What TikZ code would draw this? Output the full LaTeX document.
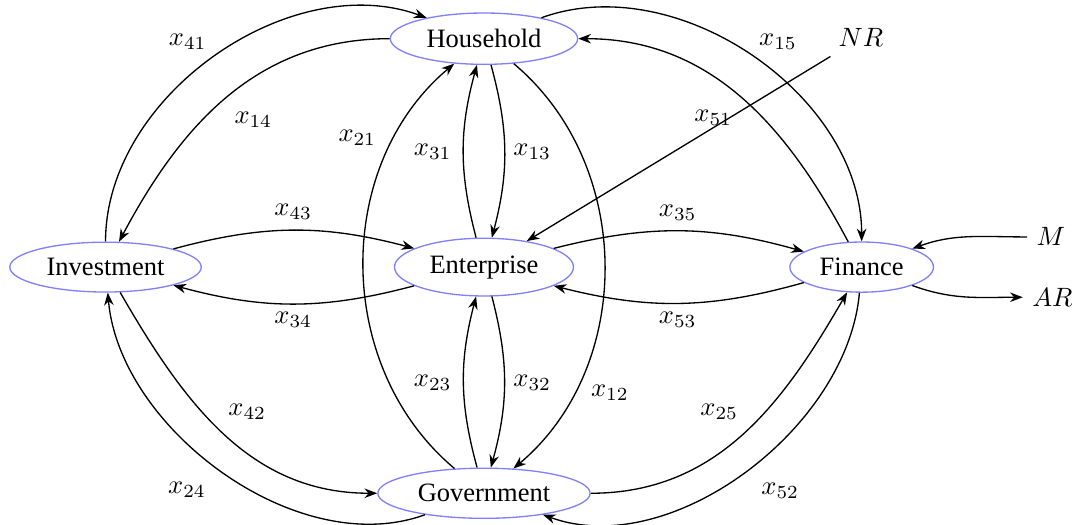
\documentclass[tikz,border=0pt]{standalone}
\usepackage[no-math]{fontspec}
\setmainfont{Liberation Serif}
\usetikzlibrary{shapes.geometric,arrows.meta}
\begin{document}
\begin{tikzpicture}[>={Stealth[length=4.8pt,width=3.6pt]}, line width=0.5pt,
    sector/.style={ellipse, draw=blue!50, line width=0.5pt}]
\useasboundingbox (0,0) rectangle (14.26,6.963);
% sectors
\node[sector] (house) at (6.42,6.45) {Household};
\node[sector] (inv) at (1.40,3.42) {Investment};
\node[sector] (ent) at (6.42,3.42) {Enterprise};
\node[sector] (fin) at (11.43,3.42) {Finance};
\node[sector] (gov) at (6.42,0.42) {Government};
\node (NR) at (11.42,6.46) {$NR$};
\node (M) at (13.94,3.82) {$M$};
\node (AR) at (13.96,3.02) {$AR$};
% flows
\draw[->] (inv) to[out=90,in=160,looseness=0.95] (house);
\draw[->] (house) to[out=180,in=62] (inv);
\draw[->] (house) to[out=20,in=90,looseness=0.95] (fin);
\draw[->] (fin) to[out=118,in=0] (house);
\draw[->] (gov) to[out=140,in=220] (house);
\draw[->] (house) to[out=-40,in=40] (gov);
\draw[->] (ent) to[bend left=15] (house);
\draw[->] (house) to[bend left=15] (ent);
\draw[->] (gov) to[bend left=15] (ent);
\draw[->] (ent) to[bend left=15] (gov);
\draw[->] (inv) to[bend left=15] (ent);
\draw[->] (ent) to[bend left=15] (inv);
\draw[->] (ent) to[bend left=15] (fin);
\draw[->] (fin) to[bend left=15] (ent);
\draw[->] (inv) to[out=-60,in=180] (gov);
\draw[->] (gov) to[out=200,in=-85,looseness=0.9] (inv);
\draw[->] (gov) to[out=0,in=-120] (fin);
\draw[->] (fin) to[out=-95,in=-20,looseness=0.9] (gov);
\draw[->] (NR) -- (ent);
\draw[->] (M) to[out=180,in=20] (fin);
\draw[->] (fin) to[out=-20,in=180] (AR);
% flow labels
\foreach \n/\x/\y in {41/2.49/6.41, 14/3.36/5.37, 15/10.32/6.41, 51/9.46/5.40,
    21/4.74/5.13, 31/5.74/4.95, 13/7.06/4.95, 43/3.89/4.15, 35/8.99/4.14,
    34/3.89/2.72, 53/8.99/2.72, 23/5.74/1.88, 32/7.06/1.88, 12/8.09/1.75,
    42/3.28/1.50, 25/9.54/1.50, 24/2.48/0.46, 52/10.35/0.45}
    \node (l\n) at (\x,\y) {$x_{\n}$};
\end{tikzpicture}
\end{document}
